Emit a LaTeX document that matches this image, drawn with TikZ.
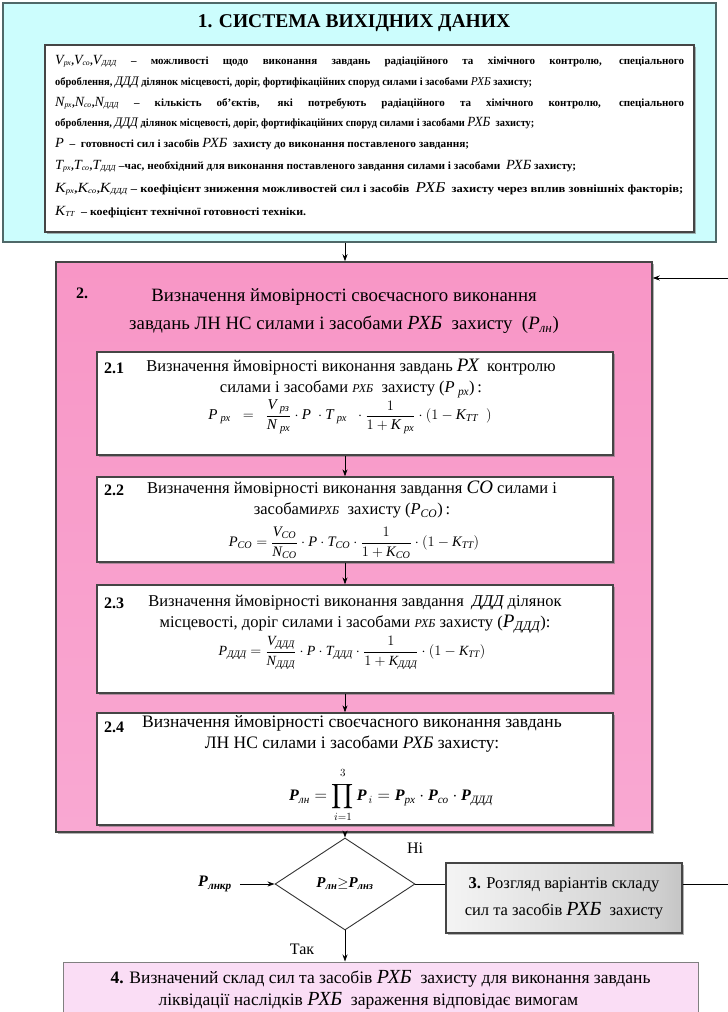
\documentclass[tikz,border=0pt]{standalone}
\usepackage{amsmath}
\usepackage{graphicx}
\usepackage{fontspec}
\setmainfont{Liberation Serif}
\usetikzlibrary{shapes.geometric,arrows.meta,shadows,calc}

\definecolor{cyanfill}{HTML}{CCFDFD}
\definecolor{cyanedge}{HTML}{4F6868}
\definecolor{edgegray}{HTML}{454545}
\definecolor{pinkA}{HTML}{F896C6}
\definecolor{pinkB}{HTML}{FDE3F0}
\definecolor{pinkC}{HTML}{F9A8D2}
\definecolor{boxfour}{HTML}{FADDF5}
\definecolor{grayA}{HTML}{BDBDBD}
\definecolor{grayB}{HTML}{F4F4F4}
\definecolor{grayD}{HTML}{CFCFCF}
\definecolor{grayC}{HTML}{929292}
\pgfdeclarehorizontalshading{altshade}{100bp}{color(0bp)=(grayA); color(25bp)=(grayB); color(70bp)=(grayD); color(100bp)=(grayC)}

\newcommand{\iv}[1]{\textit{#1}}
\newcommand{\bvar}[2]{{\fontsize{14}{14}\selectfont\mdseries\itshape #1}\textsubscript{\mdseries\itshape #2}}
\newcommand{\rxb}[1]{{\fontsize{#1}{#1}\selectfont\itshape РХБ}}
\newcommand{\itx}[2]{{\fontsize{#1}{#1}\selectfont\mdseries\itshape #2}}
\newcommand{\fitto}[2]{\resizebox{#1}{\height}{#2}}

\begin{document}
\begin{tikzpicture}[x=1pt,y=-1pt,
  arr/.style={-{Stealth[length=7pt,width=5pt]},line width=0.8pt},
  plainline/.style={line width=0.8pt},
  frame/.style={draw=edgegray,line width=1.3pt,inner sep=0pt},
  shadowed/.style={drop shadow={shadow xshift=1.5pt,shadow yshift=-1.5pt,fill=black!55,opacity=0.55}},
  sysbox/.style={draw=cyanedge,line width=1.2pt,fill=cyanfill,inner sep=0pt},
  innerbox/.style={frame,fill=white,shadowed},
  pinkbox/.style={frame,line width=1.5pt,top color=pinkA,middle color=pinkB,bottom color=pinkC,shadowed},
  subbox/.style={frame,fill=white,minimum width=516pt,shadowed},
  bodyline/.style={anchor=base west,inner sep=0pt,font=\fontsize{11}{13}\selectfont\bfseries},
  numlabel/.style={anchor=west,inner sep=0pt,font=\fontsize{16}{18}\selectfont\bfseries},
  subtitle/.style={align=center,inner sep=0pt,font=\fontsize{16.5}{21}\selectfont},
  formula/.style={inner sep=0pt,font=\fontsize{15}{17}\selectfont},
  decision/.style={diamond,draw=black!80,line width=0.9pt,fill=white,minimum width=140pt,minimum height=92pt,inner sep=0pt,aspect=1.5,font=\fontsize{15}{17}\selectfont\bfseries\itshape},
  altbox/.style={frame,shading=altshade,align=center,font=\fontsize{16.5}{27}\selectfont,minimum width=236pt,minimum height=70pt,shadowed},
  resbox/.style={draw=black!50,line width=1pt,fill=boxfour,align=left,font=\fontsize{17.5}{22}\selectfont,minimum width=635pt,minimum height=56pt,inner sep=0pt},
  smalltext/.style={inner sep=0pt,font=\fontsize{16}{18}\selectfont}
]
\useasboundingbox (0,0) rectangle (728,1012);
\fill[white] (0,0) rectangle (728,1012);

% ---------- Box 1 ----------
\node[sysbox,minimum width=713pt,minimum height=239pt] (sys) at (359.5,122.5) {};
\node[inner sep=0pt,font=\fontsize{19.5}{22}\selectfont\bfseries] (systitle) at (354,23) {1. СИСТЕМА ВИХІДНИХ ДАНИХ};
\node[innerbox,minimum width=649pt,minimum height=187pt] (inp) at (369.5,138.5) {};

\node[bodyline] (l1) at (55,64) {\makebox[629pt][s]{\bvar{V}{рх},\bvar{V}{со},\bvar{V}{ДДД} – можливості щодо виконання завдань радіаційного та хімічного контролю, спеціального}};
\node[bodyline] (l2) at (55,85) {\fitto{477pt}{оброблення, \itx{13}{ДДД} ділянок місцевості, доріг, фортифікаційних споруд силами і засобами \itx{12}{РХБ} захисту;}};
\node[bodyline] (l3) at (55,106) {\makebox[629pt][s]{\bvar{N}{рх},\bvar{N}{со},\bvar{N}{ДДД} – кількість об’єктів, які потребують радіаційного та хімічного контролю, спеціального}};
\node[bodyline] (l4) at (55,126) {\fitto{479pt}{оброблення, \itx{13}{ДДД} ділянок місцевості, доріг, фортифікаційних споруд силами і засобами \itx{14}{РХБ}\ \ захисту;}};
\node[bodyline] (l5) at (55,147) {\fitto{414pt}{\itx{14}{P} \ – \ готовності сил і засобів \itx{14}{РХБ}\ \ захисту до виконання поставленого завдання;}};
\node[bodyline] (l6) at (55,169) {\fitto{521pt}{\bvar{T}{рх},\bvar{T}{со},\bvar{T}{ДДД} –час, необхідний для виконання поставленого завдання силами і засобами \ \itx{14}{РХБ}\ захисту;}};
\node[bodyline] (l7) at (55,192) {\fitto{628pt}{\bvar{K}{рх},\bvar{K}{со},\bvar{K}{ДДД} – коефіцієнт зниження можливостей сил і засобів \ \itx{15}{РХБ}\ \ захисту через вплив зовнішніх факторів;}};
\node[bodyline] (l8) at (55,215) {\fitto{251pt}{\bvar{K}{ТТ} \ – коефіцієнт технічної готовності техніки.}};

% ---------- Box 2 ----------
\coordinate (axis) at (345,0);
\node[pinkbox,minimum width=596pt,minimum height=570pt] (calc) at (354,547) {};
\node[numlabel] (n2) at (76,293) {2.};
\node[align=center,inner sep=0pt,font=\fontsize{18.8}{28}\selectfont] (head2) at (344,311)
  {Визначення ймовірності своєчасного виконання\\завдань ЛН НС силами і засобами \rxb{20}\ \ захисту \ ($\iv{P}_{\iv{лн}}$)};

% 2.1
\node[subbox,minimum height=103pt] (s21) at (355,403.5) {};
\node[numlabel] (n21) at (104,368) {2.1};
\node[subtitle] (t21) at (351,378.5)
  {Визначення ймовірності виконання завдань {\fontsize{19}{19}\selectfont\itshape РХ}\ \ контролю\\силами і засобами {\fontsize{12}{12}\selectfont\itshape РХБ}\ \ захисту ($\iv{P}_{\;\iv{рх}}$)\,:};
\node[formula] (f21) at (350,417)
  {$\iv{P}_{\;\iv{рх}} \;\;=\;\; \dfrac{\iv{V}_{\;\iv{рз}}}{\iv{N}_{\;\iv{рх}}}\cdot \iv{P}\;\cdot \iv{T}_{\;\iv{рх}}\;\;\cdot\dfrac{1}{1+\iv{K}_{\;\iv{рх}}}\cdot(1-\iv{K}_{\iv{ТТ}}\;\;)$};

% 2.2
\node[subbox,minimum height=85pt] (s22) at (355,519.5) {};
\node[numlabel] (n22) at (104,490) {2.2};
\node[subtitle] (t22) at (352,499.5)
  {Визначення ймовірності виконання завдання {\fontsize{19}{19}\selectfont\itshape CO} силами і\\засобами{\fontsize{12}{12}\selectfont\itshape РХБ}\ \ захисту ($\iv{P}_{\iv{CO}}$)\,:};
\node[formula,font=\fontsize{14.5}{16}\selectfont] (f22) at (354,543)
  {$\iv{P}_{\iv{CO}} = \dfrac{\iv{V}_{\iv{CO}}}{\iv{N}_{\iv{CO}}}\cdot \iv{P}\cdot \iv{T}_{\iv{CO}}\cdot\dfrac{1}{1+\iv{K}_{\iv{CO}}}\cdot(1-\iv{K}_{\iv{TT}})$};

% 2.3
\node[subbox,minimum height=108pt] (s23) at (355,639) {};
\node[numlabel] (n23) at (104,603) {2.3};
\node[subtitle] (t23) at (355,614)
  {Визначення ймовірності виконання завдання \ {\fontsize{16.5}{16.5}\selectfont\itshape ДДД} ділянок\\місцевості, доріг силами і засобами {\fontsize{12}{12}\selectfont\itshape РХБ} захисту ({\fontsize{19}{19}\selectfont$\iv{P}_{\iv{ДДД}}$}):};
\node[formula,font=\fontsize{14}{16}\selectfont] (f23) at (352,653)
  {$\iv{P}_{\iv{ДДД}} = \dfrac{\iv{V}_{\iv{ДДД}}}{\iv{N}_{\iv{ДДД}}}\cdot \iv{P}\cdot \iv{T}_{\iv{ДДД}}\cdot\dfrac{1}{1+\iv{K}_{\iv{ДДД}}}\cdot(1-\iv{K}_{\iv{TT}})$};

% 2.4
\node[subbox,minimum height=112pt] (s24) at (355,769) {};
\node[numlabel] (n24) at (104,727) {2.4};
\node[subtitle,font=\fontsize{17.5}{21}\selectfont] (t24) at (352,734)
  {Визначення ймовірності своєчасного виконання завдань\\ЛН НС силами і засобами \rxb{17.5}\ захисту:};
\node[formula,font=\fontsize{16}{18}\selectfont] (f24) at (391,795)
  {$\displaystyle \textbf{\textit{P}}_{\iv{лн}} = \prod_{i=1}^{\rule[-4pt]{0pt}{4pt}3}\textbf{\textit{P}}_{\,i} = \textbf{\textit{P}}_{\iv{рх}}\cdot \textbf{\textit{P}}_{\iv{со}}\cdot \textbf{\textit{P}}_{\iv{ДДД}}$};

% ---------- Decision ----------
\node[decision] (dec) at (345,884) {P\textsubscript{лн}$\geq$P\textsubscript{лнз}};
\node[inner sep=0pt,font=\fontsize{16}{18}\selectfont\bfseries\itshape] (pkr) at (215,884) {P\textsubscript{лнкр}};
\node[smalltext] (no) at (415,848) {Ні};
\node[smalltext] (yes) at (302,949) {Так};

\node[altbox] (alt) at (564,898) {\textbf{3.} Розгляд варіантів складу\\сил та засобів \rxb{20}\ \ захисту};
\node[resbox] (res) at (380.5,990) {\textbf{4.} Визначений склад сил та засобів \rxb{20}\ \ захисту для виконання завдань\\\hspace*{48pt}ліквідації наслідків \rxb{20}\ \ зараження відповідає вимогам};

\coordinate (fbA) at (728,278);
\coordinate (fbB) at (728,884);

% ---------- Connectors ----------
\draw[arr] (sys.south -| axis) -- (calc.north -| axis);
\draw[arr] (s21.south -| axis) -- (s22.north -| axis);
\draw[arr] (s22.south -| axis) -- (s23.north -| axis);
\draw[arr] (s23.south -| axis) -- (s24.north -| axis);
\draw[arr] (calc.south -| axis) -- (dec.north);
\draw[arr] (pkr.east) ++(8,0) -- (dec.west);
\draw[plainline] (dec.east) -- (alt.west |- dec.east);
\draw[plainline] (alt.east |- fbB) -- (fbB);
\draw[arr] (fbA) -- (fbA -| calc.east);
\draw[arr] (dec.south) -- (res.north -| dec.south);
\end{tikzpicture}
\end{document}
